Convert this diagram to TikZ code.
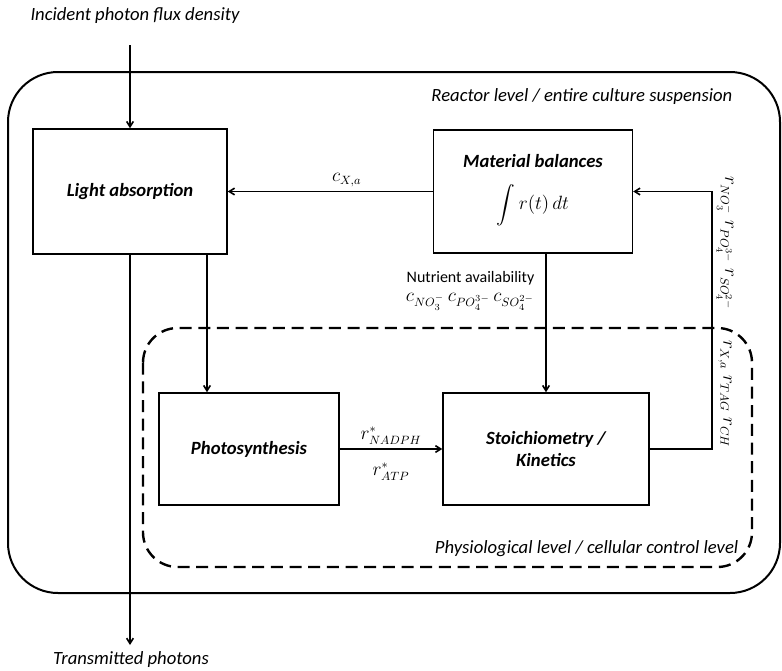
\documentclass[tikz,border=0pt]{standalone}
\usepackage{amsmath,amssymb}
\usepackage{fontspec}
\setmainfont{Carlito}
\usetikzlibrary{arrows.meta}
\usetikzlibrary{positioning}

\begin{document}
\begin{tikzpicture}[x=0.75pt,y=-0.75pt,
	box/.style={draw,line width=1.1pt,inner sep=0pt,align=center,
		font=\fontsize{14}{16}\selectfont\bfseries\itshape},
	flow/.style={line width=1.2pt,-{Straight Barb[length=4pt,width=5pt]}},
	lbl/.style={font=\fontsize{14}{16}\selectfont\itshape},
	rlbl/.style={font=\fontsize{13.5}{15}\selectfont,inner sep=1pt}]
	\useasboundingbox (0,0) rectangle (782,671);
	
	\draw[line width=1.5pt,rounded corners=50pt*0.75] (8,72) rectangle (780,593);
	\node[lbl,anchor=east] (reactor) at (737,97) {Reactor level / entire culture suspension};
	
	\draw[line width=1.8pt,dash pattern=on 9pt off 5pt,rounded corners=26pt] 
	(143,328) rectangle (752,567);
	\node[lbl,anchor=east] (physio) at (743,549) {Physiological level / cellular control level};
	
	\node[box,minimum width=145.5pt,minimum height=93.75pt] (light) at (130,191.5) {Light absorption};
	\node[box,minimum width=149.25pt,minimum height=92.25pt] (balance) at (533,191.5) {};
	\node[inner sep=0pt,font=\fontsize{14}{16}\selectfont\bfseries\itshape] (baltitle) at (533,161) {Material balances};
	\node[inner sep=0pt,font=\fontsize{14}{16}\selectfont] (balint) at (533,205) {$\displaystyle\int r(t)\,dt$};
	\node[box,minimum width=135pt,minimum height=84pt] (photo) at (249,449) {Photosynthesis};
	\node[box,minimum width=154.5pt,minimum height=84pt] (stoich) at (546,449) {Stoichiometry /\\Kinetics};
	
	\node[lbl,anchor=south] (incident) at (135,28) {Incident photon flux density};
	\coordinate (inc) at (130,45);
	\draw[flow] (inc) -- (light.north -| inc);
	
	\node[lbl] (trans) at (131,660) {Transmitted photons};
	\coordinate (out) at (130,645);
	\draw[flow] (light.south -| out) -- (out);
	
	\coordinate (lp) at (207,0);
	\draw[flow] (light.south -| lp) -- (photo.north -| lp);
	
	\draw[flow] (balance.west) -- node[above=2pt,pos=0.42,rlbl] (cxa) {$c_{X,a}$} (light.east);
	
	\coordinate (nut) at (546,0);
	\draw[flow] (balance.south -| nut) -- (stoich.north -| nut);
	\node[anchor=east,font=\fontsize{12}{14}\selectfont] (avail) at (539,278) {Nutrient availability};
	\node[anchor=east,rlbl] (cnut) at (536,302) 
	{$c_{NO_3^-}\,c_{PO_4^{3-}}\,c_{SO_4^{2-}}$};
	
	\draw[flow] (photo.east) -- node[above=2pt,rlbl] (rnadph) {$r^*_{NADPH}$} 
	node[below=9pt,rlbl] (ratp) {$r^*_{ATP}$} (stoich.east -| stoich.west);
	
	\coordinate (fb) at (712,449);
	\draw[flow] (stoich.east) -- (fb) -- (fb |- balance.east) -- (balance.east);
	\node[rlbl,rotate=-90] (rnut) at (725,243) {$r_{NO_3^-}\;r_{PO_4^{3-}}\;r_{SO_4^{2-}}$};
	\node[rlbl,rotate=-90] (rbio) at (725,394) {$r_{X,a}\;r_{TAG}\;r_{CH}$};
\end{tikzpicture}
\end{document}
